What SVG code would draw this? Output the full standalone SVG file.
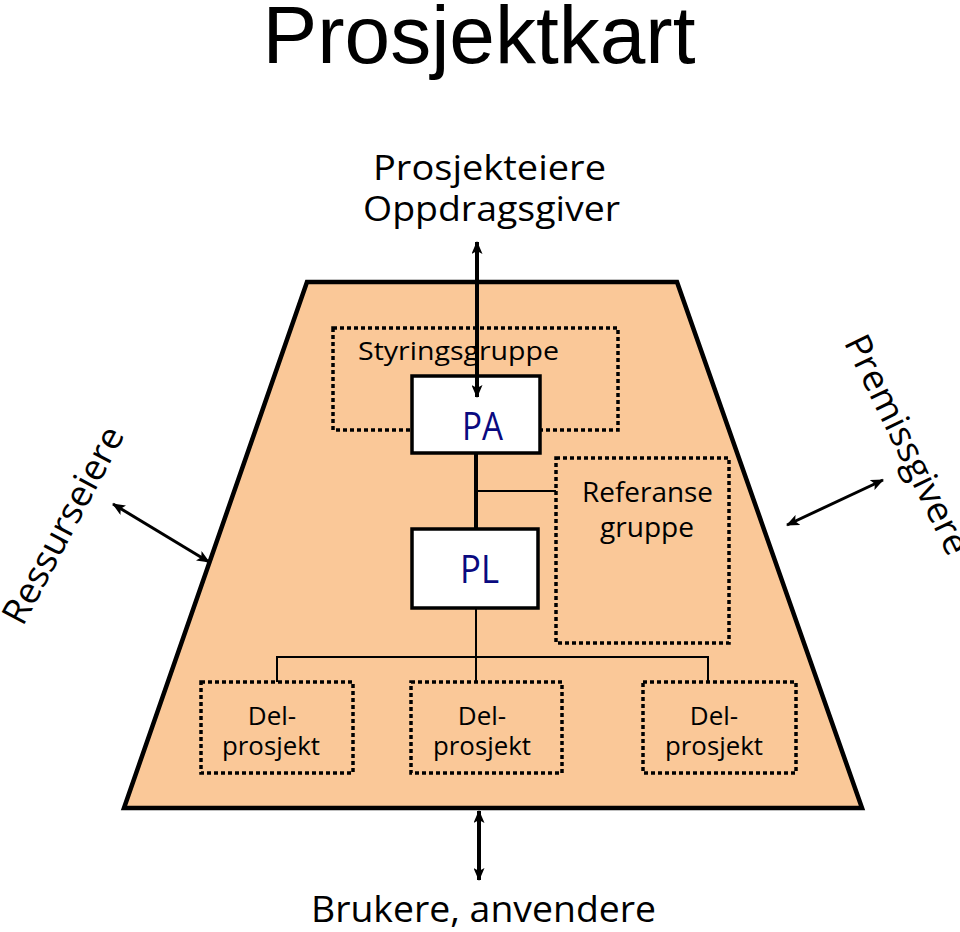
<svg xmlns="http://www.w3.org/2000/svg" width="960" height="932" viewBox="0 0 960 932">
<style>
.t{font-family:"Open Sans","Noto Sans",sans-serif;fill:#000}
.blue{fill:#0A0A80}
.dot{fill:none;stroke:#000;stroke-width:3.5;stroke-dasharray:4 3}
.box{fill:#fff;stroke:#000;stroke-width:3.5}
.ln{stroke:#000;fill:none}
</style>
<defs>
<marker id="ah" viewBox="0 0 13 11" refX="12" refY="5.5" markerWidth="13" markerHeight="11" markerUnits="userSpaceOnUse" orient="auto-start-reverse">
<path d="M0,0 L13,5.5 L0,11 L3,5.5 Z" fill="#000"/>
</marker>
</defs>
<rect width="960" height="932" fill="#fff"/>
<text class="t" x="479" y="63" style="font-family:'Liberation Sans',Arial,sans-serif" font-size="82" text-anchor="middle">Prosjektkart</text>

<g id="frame">
<polygon points="307,282 677,282 862,808 124,808" fill="#FAC898" stroke="#000" stroke-width="4.5" stroke-linejoin="miter"/>
</g>

<g id="eiere">
<text class="t" x="373" y="180" font-size="35" textLength="233" lengthAdjust="spacingAndGlyphs">Prosjekteiere</text>
<text class="t" x="363" y="221" font-size="35" textLength="257" lengthAdjust="spacingAndGlyphs">Oppdragsgiver</text>
</g>

<g id="styringsgruppe">
<rect class="dot" x="333" y="328" width="285" height="102"/>
<text class="t" x="358" y="360" font-size="26" textLength="201" lengthAdjust="spacingAndGlyphs">Styringsgruppe</text>
</g>

<g id="PA">
<rect class="box" x="412" y="376" width="128" height="77"/>
<text class="t blue" x="462" y="440" font-size="38" textLength="41" lengthAdjust="spacingAndGlyphs">PA</text>
</g>

<g id="PL">
<rect class="box" x="412" y="529" width="126" height="79"/>
<text class="t blue" x="460" y="583" font-size="38" textLength="39" lengthAdjust="spacingAndGlyphs">PL</text>
</g>

<g id="referansegruppe">
<rect class="dot" x="556" y="458" width="173" height="185"/>
<text class="t" x="582" y="502" font-size="28" textLength="131" lengthAdjust="spacingAndGlyphs">Referanse</text>
<text class="t" x="600" y="537" font-size="28" textLength="94" lengthAdjust="spacingAndGlyphs">gruppe</text>
</g>

<g id="delprosjekt1">
<rect class="dot" x="201" y="682" width="152" height="91"/>
<text class="t" x="272" y="725" font-size="26" text-anchor="middle">Del-</text>
<text class="t" x="271" y="755" font-size="26" text-anchor="middle" textLength="98" lengthAdjust="spacingAndGlyphs">prosjekt</text>
</g>
<g id="delprosjekt2">
<rect class="dot" x="411" y="682" width="151" height="91"/>
<text class="t" x="482" y="725" font-size="26" text-anchor="middle">Del-</text>
<text class="t" x="482" y="755" font-size="26" text-anchor="middle" textLength="98" lengthAdjust="spacingAndGlyphs">prosjekt</text>
</g>
<g id="delprosjekt3">
<rect class="dot" x="643" y="682" width="153" height="91"/>
<text class="t" x="714" y="725" font-size="26" text-anchor="middle">Del-</text>
<text class="t" x="714" y="755" font-size="26" text-anchor="middle" textLength="98" lengthAdjust="spacingAndGlyphs">prosjekt</text>
</g>

<g id="ressurseiere">
<text class="t" font-size="36" text-anchor="middle" transform="translate(74,531) rotate(-62)" textLength="218" lengthAdjust="spacingAndGlyphs">Ressurseiere</text>
</g>
<g id="premissgivere">
<text class="t" font-size="36" text-anchor="middle" transform="translate(896,450) rotate(64)" textLength="240" lengthAdjust="spacingAndGlyphs">Premissgivere</text>
</g>
<g id="brukere">
<text class="t" x="311" y="922" font-size="36" textLength="345" lengthAdjust="spacingAndGlyphs">Brukere, anvendere</text>
</g>

<g id="connectors">
<line class="ln" x1="477" y1="242" x2="477" y2="397" stroke-width="4" marker-start="url(#ah)" marker-end="url(#ah)"/>
<line class="ln" x1="476" y1="453" x2="476" y2="529" stroke-width="4"/>
<line class="ln" x1="476" y1="491" x2="556" y2="491" stroke-width="2"/>
<line class="ln" x1="476" y1="608" x2="476" y2="682" stroke-width="2"/>
<polyline class="ln" points="277,682 277,657 708,657 708,682" stroke-width="2"/>
<line class="ln" x1="113" y1="504" x2="209" y2="562" stroke-width="3" marker-start="url(#ah)" marker-end="url(#ah)"/>
<line class="ln" x1="787" y1="525" x2="883" y2="480" stroke-width="3" marker-start="url(#ah)" marker-end="url(#ah)"/>
<line class="ln" x1="479" y1="811" x2="479" y2="880" stroke-width="4" marker-start="url(#ah)" marker-end="url(#ah)"/>
</g>
</svg>
